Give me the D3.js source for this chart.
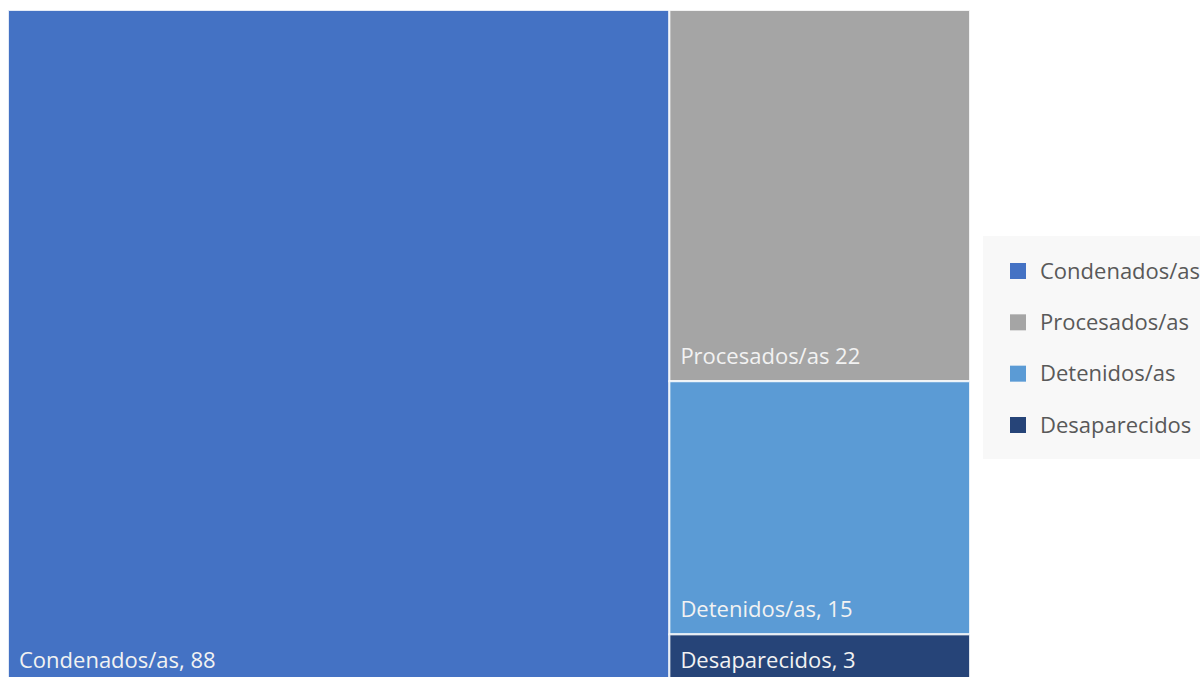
<!DOCTYPE html>
<html>
<head>
<meta charset="utf-8">
<script src="https://cdn.jsdelivr.net/npm/d3@7"></script>
<style>
  html, body { margin: 0; padding: 0; background: #ffffff; overflow: hidden; }
  svg { display: block; }
</style>
</head>
<body>
<svg id="chart" width="1200" height="677"></svg>
<script>
const categories = ["Condenados/as", "Procesados/as", "Detenidos/as", "Desaparecidos"];
const values = [88, 22, 15, 3];
const labels = ["Condenados/as, 88", "Procesados/as 22", "Detenidos/as, 15", "Desaparecidos, 3"];
const colors = ["#4472C4", "#A5A5A5", "#5B9BD5", "#264478"];

const svg = d3.select("#chart");
const font = "'Open Sans', 'Noto Sans', sans-serif";

const data = {
  name: "root",
  children: categories.map((c, i) => ({ name: c, value: values[i], label: labels[i], idx: i }))
};

const root = d3.hierarchy(data).sum(d => d.value || 0);
d3.treemap()
  .tile(d3.treemapBinary)
  .size([962, 675])
  .paddingInner(0)(root);

const color = d3.scaleOrdinal().domain(categories).range(colors);

const plot = svg.append("g").attr("transform", "translate(8,10)");

const cells = plot.selectAll("g")
  .data(root.leaves())
  .join("g");

cells.append("rect")
  .attr("x", d => d.x0)
  .attr("y", d => d.y0)
  .attr("width", d => d.x1 - d.x0)
  .attr("height", d => d.y1 - d.y0)
  .attr("fill", d => color(d.data.name))
  .attr("stroke", "#ffffff")
  .attr("stroke-opacity", 0.85)
  .attr("stroke-width", 2);

cells.append("text")
  .attr("x", d => d.x0 + 11)
  .attr("y", d => d.y1 - 17)
  .attr("fill", "#f2f2f2")
  .attr("font-family", font)
  .attr("font-size", 22)
  .text(d => d.data.label);

// Legend
const legend = svg.append("g");
legend.append("rect")
  .attr("x", 983).attr("y", 236)
  .attr("width", 240).attr("height", 223)
  .attr("fill", "#f8f8f8");

const ly = d3.scalePoint().domain(categories).range([271, 425]);

const items = legend.selectAll("g.item")
  .data(categories)
  .join("g").attr("class", "item");

items.append("rect")
  .attr("x", 1010)
  .attr("y", d => ly(d) - 8)
  .attr("width", 16).attr("height", 16)
  .attr("fill", d => color(d));

items.append("text")
  .attr("x", 1040)
  .attr("y", d => ly(d))
  .attr("dy", "0.35em")
  .attr("fill", "#595959")
  .attr("font-family", font)
  .attr("font-size", 22)
  .text(d => d);
</script>
</body>
</html>
